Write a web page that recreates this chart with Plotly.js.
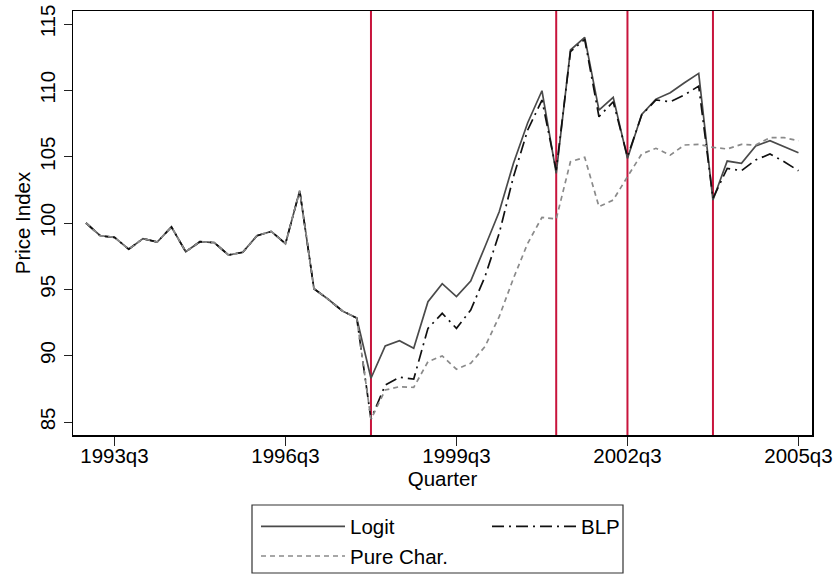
<!DOCTYPE html>
<html>
<head>
<meta charset="utf-8">
<script src="https://cdn.plot.ly/plotly-3.0.1.min.js"></script>
<style>html,body{margin:0;padding:0;background:#fff;}#chart{width:835px;height:574px;}</style>
</head>
<body>
<div id="chart"></div>
<script>
// Quarters (x categories)
const quarters = [
  '1993q1','1993q2','1993q3','1993q4',
  '1994q1','1994q2','1994q3','1994q4',
  '1995q1','1995q2','1995q3','1995q4',
  '1996q1','1996q2','1996q3','1996q4',
  '1997q1','1997q2','1997q3','1997q4',
  '1998q1','1998q2','1998q3','1998q4',
  '1999q1','1999q2','1999q3','1999q4',
  '2000q1','2000q2','2000q3','2000q4',
  '2001q1','2001q2','2001q3','2001q4',
  '2002q1','2002q2','2002q3','2002q4',
  '2003q1','2003q2','2003q3','2003q4',
  '2004q1','2004q2','2004q3','2004q4',
  '2005q1','2005q2','2005q3'
];

// Price index series
const logit = [100.0, 99.04, 98.92, 98.02, 98.82, 98.57, 99.70, 97.84, 98.59, 98.52,
  97.59, 97.79, 99.04, 99.37, 98.44, 102.43, 95.05, 94.25, 93.37, 92.84,
  88.30, 90.73, 91.13, 90.55, 94.07, 95.43, 94.45, 95.63, 98.21, 100.85,
  104.50, 107.56, 109.97, 103.74, 113.04, 113.99, 108.51, 109.47, 104.87, 108.19,
  109.34, 109.82, 110.57, 111.28, 101.73, 104.67, 104.50, 105.80, 106.20, 105.75, 105.30];

const blp = [100.0, 99.04, 98.92, 98.02, 98.82, 98.57, 99.70, 97.84, 98.59, 98.52,
  97.59, 97.79, 99.04, 99.37, 98.44, 102.43, 95.05, 94.25, 93.37, 92.84,
  85.21, 87.79, 88.37, 88.24, 92.06, 93.19, 92.06, 93.44, 95.95, 99.22,
  103.49, 107.01, 109.27, 103.99, 112.91, 113.84, 108.01, 109.14, 105.00, 108.14,
  109.27, 109.14, 109.65, 110.32, 101.86, 104.12, 103.94, 104.75, 105.20, 104.62, 103.94];

const pureChar = [100.0, 99.04, 98.92, 98.02, 98.82, 98.57, 99.70, 97.84, 98.59, 98.52,
  97.59, 97.79, 99.04, 99.37, 98.44, 102.43, 95.05, 94.25, 93.37, 92.84,
  85.21, 87.41, 87.66, 87.61, 89.55, 89.98, 88.98, 89.43, 90.68, 92.94,
  95.83, 98.47, 100.43, 100.30, 104.62, 104.95, 101.23, 101.73, 103.49, 105.20,
  105.63, 105.12, 105.88, 105.93, 105.70, 105.58, 105.93, 105.88, 106.43, 106.43, 106.20];

// Event quarters marked by vertical lines
const eventQuarters = ['1998q1', '2001q2', '2002q3', '2004q1'];

// Axis ticks
const xTickVals = ['1993q3', '1996q3', '1999q3', '2002q3', '2005q3'];
const yTickVals = [85, 90, 95, 100, 105, 110, 115];

const FONT = 'Liberation Sans, Arial, Helvetica, sans-serif';
const FS = 20.5;
const W = 835, H = 574;
const PL = 73, PT = 11, PW = 739, PH = 424;
const px2fx = px => (px - PL) / PW;
const py2fy = py => (PT + PH - py) / PH;

const traces = [
  {x: quarters, y: logit, type: 'scatter', mode: 'lines', name: 'Logit',
   line: {color: '#4a4a4a', width: 1.7}, legend: 'legend'},
  {x: quarters, y: blp, type: 'scatter', mode: 'lines', name: 'BLP',
   line: {color: '#111111', width: 1.7, dash: '12px,5px,2px,5px'}, legend: 'legend2'},
  {x: quarters, y: pureChar, type: 'scatter', mode: 'lines', name: 'Pure Char.',
   line: {color: '#8a8a8a', width: 1.7, dash: '5px,4px'}, legend: 'legend'}
];

const shapes = eventQuarters.map(q => ({
  type: 'line', xref: 'x', yref: 'paper',
  x0: quarters.indexOf(q), x1: quarters.indexOf(q), y0: 0, y1: 1,
  line: {color: '#C8143C', width: 2}, layer: 'below'
}));
// legend frame
shapes.push({type: 'rect', xref: 'paper', yref: 'paper',
  x0: px2fx(252), x1: px2fx(623), y0: py2fy(573), y1: py2fy(505),
  line: {color: '#333333', width: 1.2}, fillcolor: 'rgba(0,0,0,0)'});

const legendCommon = {
  orientation: 'v', xanchor: 'left', yanchor: 'top', y: py2fy(506.5),
  itemwidth: 84, borderwidth: 0, bgcolor: 'rgba(0,0,0,0)',
  font: {family: FONT, size: FS, color: '#000'}, tracegroupgap: 0
};

const layout = {
  width: W, height: H,
  margin: {l: PL, r: W - PL - PW, t: PT, b: H - PT - PH, autoexpand: false},
  paper_bgcolor: '#fff', plot_bgcolor: '#fff',
  font: {family: FONT, size: FS, color: '#000'},
  showlegend: true,
  legend: Object.assign({}, legendCommon, {x: px2fx(256)}),
  legend2: Object.assign({}, legendCommon, {x: px2fx(487)}),
  xaxis: {
    type: 'category', range: [-0.91, 50.95], automargin: false,
    tickmode: 'array', tickvals: xTickVals, ticktext: xTickVals,
    ticks: 'outside', ticklen: 9, tickwidth: 1, tickcolor: '#222',
    ticklabelstandoff: -7,
    showline: true, linecolor: '#000', linewidth: 1.5, mirror: true,
    showgrid: false, zeroline: false,
    tickfont: {family: FONT, size: FS, color: '#000'},
    title: {text: 'Quarter', font: {family: FONT, size: FS, color: '#000'}, standoff: 0}
  },
  yaxis: {
    range: [84.02, 115.98], automargin: false,
    tickmode: 'array', tickvals: yTickVals, ticktext: yTickVals.map(String),
    tickangle: -90,
    ticks: 'outside', ticklen: 8, tickwidth: 1, tickcolor: '#222',
    showline: true, linecolor: '#000', linewidth: 1.5, mirror: true,
    showgrid: false, zeroline: false,
    tickfont: {family: FONT, size: FS, color: '#000'},
    title: {text: 'Price Index', font: {family: FONT, size: FS, color: '#000'}, standoff: 0}
  },
  shapes: shapes
};

Plotly.newPlot('chart', traces, layout, {displayModeBar: false, staticPlot: true});
</script>
</body>
</html>
